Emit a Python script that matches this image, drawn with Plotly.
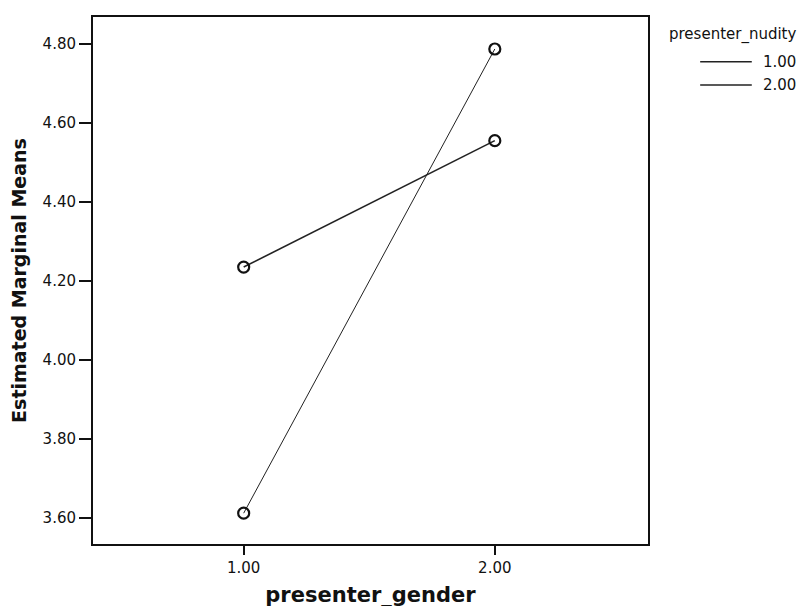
import plotly.graph_objects as go

gender = [1.0, 2.0]
gender_labels = ["1.00", "2.00"]
nudity_levels = ["1.00", "2.00"]
means_nudity_1 = [4.235, 4.555]
means_nudity_2 = [3.612, 4.787]
y_ticks = [3.60, 3.80, 4.00, 4.20, 4.40, 4.60, 4.80]
y_tick_labels = ["3.60", "3.80", "4.00", "4.20", "4.40", "4.60", "4.80"]

FONT = "DejaVu Sans, Liberation Sans, Arial, sans-serif"

fig = go.Figure()
for vals, lw in [(means_nudity_1, 1.6), (means_nudity_2, 1.0)]:
    fig.add_trace(go.Scatter(
        x=gender, y=vals, mode="lines+markers",
        line=dict(color="#222222", width=lw),
        marker=dict(symbol="circle-open", size=11, color="#111111",
                    line=dict(width=2.2, color="#111111")),
        showlegend=False,
    ))

fig.update_layout(
    width=806, height=606,
    margin=dict(l=85, r=166, t=7, b=70),
    paper_bgcolor="white", plot_bgcolor="white",
    font=dict(family=FONT, color="#111111"),
    xaxis=dict(
        range=[0.4, 2.61], tickvals=gender, ticktext=gender_labels,
        ticks="outside", ticklen=9, tickwidth=2, tickcolor="#111111",
        showline=True, linewidth=2, linecolor="#111111", mirror=True,
        showgrid=False, zeroline=False,
        tickfont=dict(size=15, family=FONT),
        title=dict(text="<b>presenter_gender</b>", font=dict(size=21, family=FONT), standoff=11),
    ),
    yaxis=dict(
        range=[3.534, 4.868], tickvals=y_ticks, ticktext=y_tick_labels,
        ticks="outside", ticklen=12, tickwidth=2, tickcolor="#111111",
        showline=True, linewidth=2, linecolor="#111111", mirror=True,
        showgrid=False, zeroline=False,
        tickfont=dict(size=15, family=FONT),
        title=dict(text="<b>Estimated Marginal Means</b>", font=dict(size=19, family=FONT), standoff=11),
    ),
)

# Legend drawn manually (title, line samples, labels)
fig.add_annotation(xref="paper", yref="paper", x=1.034, y=0.966, xanchor="left", yanchor="middle",
                   text="presenter_nudity", showarrow=False, font=dict(size=15, family=FONT, color="#111111"))
for i, lab in enumerate(nudity_levels):
    yy = 0.915 - i * 0.044
    fig.add_shape(type="line", xref="paper", yref="paper", x0=1.094, x1=1.187, y0=yy, y1=yy,
                  line=dict(color="#222222", width=1.4))
    fig.add_annotation(xref="paper", yref="paper", x=1.203, y=yy, xanchor="left", yanchor="middle",
                       text=lab, showarrow=False, font=dict(size=15, family=FONT, color="#111111"))

fig.write_html("out.html")
